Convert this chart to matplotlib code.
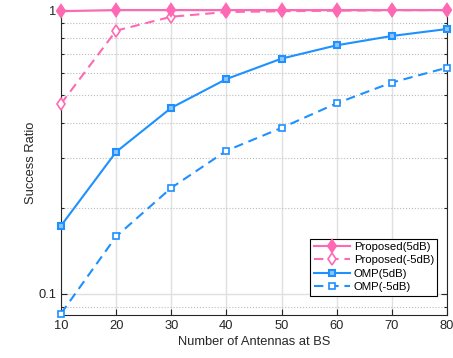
import numpy as np
import matplotlib.pyplot as plt
from matplotlib.ticker import FixedLocator, NullFormatter, LogLocator

plt.rcParams['font.family'] = ['Liberation Sans', 'DejaVu Sans']

antennas = [10, 20, 30, 40, 50, 60, 70, 80]
prop_5db = [0.99, 1.0, 1.0, 1.0, 1.0, 1.0, 1.0, 1.0]
prop_m5db = [0.467, 0.846, 0.947, 0.984, 0.99, 0.995, 0.998, 1.0]
omp_5db = [0.1735, 0.316, 0.452, 0.571, 0.674, 0.751, 0.81, 0.857]
omp_m5db = [0.085, 0.159, 0.236, 0.319, 0.384, 0.469, 0.555, 0.626]

pink = '#ff69b4'
blue = '#1e90ff'

fig = plt.figure(figsize=(4.53, 3.58), dpi=100)
ax = fig.add_axes([0.1347, 0.12, 0.852, 0.852])

ax.plot(antennas, prop_5db, '-', color=pink, lw=1.5, marker='d', ms=6.5,
        mfc=pink, mec=pink, mew=1.5, label='Proposed(5dB)', clip_on=False, zorder=5)
ax.plot(antennas, prop_m5db, '--', color=pink, lw=1.5, marker='d', ms=6,
        mfc='white', mec=pink, mew=1.2, label='Proposed(-5dB)', dashes=(4.5, 2.8),
        clip_on=False, zorder=4)
ax.plot(antennas, omp_5db, '-', color=blue, lw=1.5, marker='s', ms=5,
        mfc='#8cc4ff', mec=blue, mew=1.5, label='OMP(5dB)', clip_on=False, zorder=4)
ax.plot(antennas, omp_m5db, '--', color=blue, lw=1.5, marker='s', ms=5,
        mfc='white', mec=blue, mew=1.2, label='OMP(-5dB)', dashes=(4.5, 2.8),
        clip_on=False, zorder=4)

ax.set_yscale('log')
ax.set_xlim(10, 80)
ax.set_ylim(0.084, 1.0)
ax.set_xticks(antennas)
ax.yaxis.set_major_locator(FixedLocator([0.1, 1]))
ax.set_yticklabels(['0.1', '1'])
ax.yaxis.set_minor_locator(LogLocator(base=10, subs=np.arange(2, 10)))
ax.yaxis.set_minor_formatter(NullFormatter())

ax.grid(True, which='major', color='#e0e0e0', lw=1.0)
ax.grid(True, which='minor', axis='y', color='#bbbbbb', ls=':', lw=0.8)
ax.set_axisbelow(True)

ax.tick_params(which='both', direction='in', top=True, right=True,
               labelsize=9.3, colors='#262626', width=0.8)
ax.tick_params(which='major', length=4)
ax.tick_params(which='minor', length=2.5)
for s in ax.spines.values():
    s.set_color('#262626')
    s.set_linewidth(0.8)

ax.set_xlabel('Number of Antennas at BS', fontsize=9.3, color='#262626', labelpad=3)
ax.set_ylabel('Success Ratio', fontsize=9.3, color='#262626', labelpad=1)

leg = ax.legend(loc='lower right', fontsize=8.2, fancybox=False,
                edgecolor='black', framealpha=1, borderpad=0.3,
                labelspacing=0.3, handlelength=3.2, handletextpad=0.3,
                bbox_to_anchor=(0.99, 0.045))
leg.get_frame().set_linewidth(0.8)

fig.savefig('out.png', dpi=100)
